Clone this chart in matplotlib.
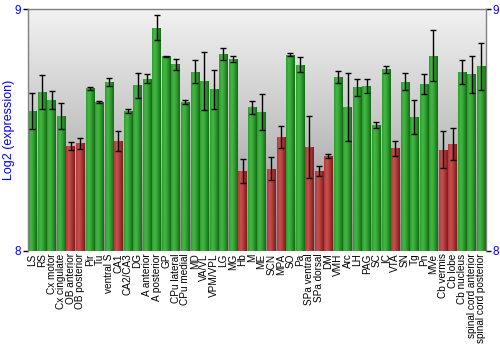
import numpy as np
import matplotlib
matplotlib.use("Agg")
import matplotlib.pyplot as plt
from matplotlib.colors import LinearSegmentedColormap

regions = ["LS", "RS", "Cx motor", "Cx cingulate", "OB anterior", "OB posterior", "Pir", "Tu",
           "ventral S", "CA1", "CA2/CA3", "DG", "A anterior", "A posterior", "GP", "CPu lateral",
           "CPu medial", "MD", "VA/VL", "VPM/VPL", "LG", "MG", "Hb", "M", "ME", "SCN", "MPA", "SO",
           "Pa", "SPa ventral", "SPa dorsal", "DM", "VMH", "Arc", "LH", "PAG", "SC", "IC", "VTA",
           "SN", "Tg", "Pn", "MVe", "Cb vermis", "Cb lobe", "Cb nucleus", "spinal cord anterior",
           "spinal cord posterior"]
values = [8.579, 8.657, 8.624, 8.558, 8.435, 8.445, 8.673, 8.616,
          8.699, 8.454, 8.580, 8.686, 8.713, 8.924, 8.805, 8.772,
          8.617, 8.742, 8.703, 8.669, 8.815, 8.794, 8.330, 8.594, 8.576, 8.340, 8.471, 8.811,
          8.771, 8.428, 8.329, 8.392, 8.718, 8.597, 8.677, 8.682, 8.521, 8.751, 8.425,
          8.700, 8.554, 8.691, 8.808, 8.419, 8.442, 8.740, 8.731,
          8.764]
errors = [0.076, 0.071, 0.039, 0.053, 0.016, 0.022, 0.006, 0.006,
          0.016, 0.041, 0.008, 0.052, 0.017, 0.051, 0.003, 0.024,
          0.008, 0.046, 0.119, 0.080, 0.026, 0.012, 0.048, 0.028, 0.075, 0.048, 0.045, 0.006,
          0.032, 0.128, 0.021, 0.008, 0.025, 0.141, 0.035, 0.030, 0.011, 0.016, 0.031,
          0.036, 0.070, 0.041, 0.105, 0.075, 0.068, 0.049, 0.076,
          0.097]
low_regions = ["OB anterior", "OB posterior", "CA1", "Hb", "SCN", "MPA", "SPa ventral",
               "SPa dorsal", "DM", "VTA", "Cb vermis", "Cb lobe"]
y_ticks = [8, 9]

fig = plt.figure(figsize=(5, 3.5), dpi=100)
ax = fig.add_axes([0.0554, 0.2837, 0.9166, 0.6897])

n = len(regions)
x = np.arange(n)
ax.set_xlim(-0.5, n - 0.5)
ax.set_ylim(8, 9)

# background gradient (light at top, darker toward bottom)
bg = LinearSegmentedColormap.from_list("bg", ["#f2f2f2", "#c4c4c4", "#8c8c8c"])
grad = np.linspace(0, 1, 256).reshape(-1, 1)
ax.imshow(grad, cmap=bg, aspect="auto", extent=[-0.5, n - 0.5, 8, 9],
          origin="upper", zorder=0, interpolation="bicubic")

green = LinearSegmentedColormap.from_list(
    "g", [(0, "#2f9a2f"), (0.3, "#45b845"), (0.55, "#36a636"), (1, "#146a14")])
red = LinearSegmentedColormap.from_list(
    "r", [(0, "#b03838"), (0.3, "#c85050"), (0.55, "#b84040"), (1, "#7a1c1c")])
hgrad = np.linspace(0, 1, 64).reshape(1, -1)

width = 0.88
bars = ax.bar(x, np.array(values) - 8, width=width, bottom=8, color="none",
              edgecolor="none", zorder=2)
for i, b in enumerate(bars):
    cm = red if regions[i] in low_regions else green
    xl = b.get_x()
    im = ax.imshow(hgrad, cmap=cm, aspect="auto",
                   extent=[xl, xl + b.get_width(), 8, values[i]],
                   zorder=2, interpolation="bilinear")
    im.set_clip_path(b)

ax.errorbar(x, values, yerr=errors, fmt="none", ecolor="black", elinewidth=1.0,
            capsize=2.2, capthick=1.0, zorder=3)

ax.set_xlim(-0.5, n - 0.5)
ax.set_ylim(8, 9)

ax.set_xticks(x)
ax.set_xticklabels(regions, rotation=90, fontsize=7.2, family="Liberation Sans")
ax.tick_params(axis="x", length=0, pad=2)
ax.set_yticks(y_ticks)
ax.set_yticklabels([str(t) for t in y_ticks])
ax.tick_params(axis="y", left=True, right=True, labelleft=True, labelright=True,
               length=3.5, width=1, colors="black", labelcolor="#0000ff",
               labelsize=8.5, pad=1)
for lab in ax.get_yticklabels():
    lab.set_family("Liberation Sans")

ax.set_ylabel("Log2 (expression)", color="#0000ff", fontsize=9,
              family="Liberation Sans")
ax.yaxis.set_label_coords(-0.027, 0.5)

for s in ["left", "top", "right"]:
    ax.spines[s].set_color("#808080")
    ax.spines[s].set_linewidth(1)
ax.spines["bottom"].set_visible(False)

fig.savefig("out.png", dpi=100)
